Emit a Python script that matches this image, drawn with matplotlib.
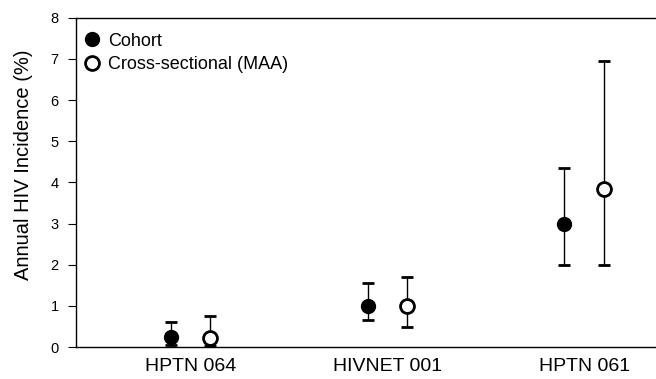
import numpy as np
import matplotlib
matplotlib.use("Agg")
import matplotlib.pyplot as plt
from matplotlib.lines import Line2D

plt.rcParams['font.family'] = ['Liberation Sans', 'DejaVu Sans']

studies = ["HPTN 064", "HIVNET 001", "HPTN 061"]

cohort = [0.25, 1.0, 3.0]
cohort_lo = [0.05, 0.67, 2.0]
cohort_hi = [0.6, 1.55, 4.35]

cross = [0.22, 1.0, 3.85]
cross_lo = [0.02, 0.5, 2.0]
cross_hi = [0.75, 1.7, 6.95]

x = np.arange(1, len(studies) + 1)
off = 0.1

fig = plt.figure(figsize=(6.56, 3.79), dpi=100)
ax = fig.add_axes([0.116, 0.084, 0.884, 0.869])

c = np.array(cohort)
ax.errorbar(x - off, c, yerr=[c - np.array(cohort_lo), np.array(cohort_hi) - c],
            fmt='o', color='black', ms=10, ecolor='black', elinewidth=1,
            capsize=4.5, capthick=2, zorder=3)
m = np.array(cross)
ax.errorbar(x + off, m, yerr=[m - np.array(cross_lo), np.array(cross_hi) - m],
            fmt='o', color='black', ms=10, mfc='white', mec='black', mew=2,
            ecolor='black', elinewidth=1, capsize=4.5, capthick=2, zorder=3)

ax.set_xlim(0.42, 3.365)
ax.set_ylim(0, 8)
ax.set_yticks(range(0, 9))
ax.set_xticks(x)
ax.set_xticklabels(studies, fontsize=14)
ax.tick_params(axis='x', length=0, pad=8)
ax.tick_params(axis='y', labelsize=10.5, direction='out', length=5.5, width=0.8,
               pad=7)
ax.set_ylabel("Annual HIV Incidence (%)", fontsize=14.5)
ax.yaxis.set_label_coords(-0.075, 0.553)
ax.spines['right'].set_visible(False)
for s in ['left', 'top', 'bottom']:
    ax.spines[s].set_linewidth(1)

handles = [Line2D([], [], marker='o', ls='', color='black', ms=10),
           Line2D([], [], marker='o', ls='', color='black', mfc='white', mew=2, ms=10)]
ax.legend(handles, ['Cohort', 'Cross-sectional (MAA)'], loc='upper left',
          bbox_to_anchor=(-0.01, 0.988), frameon=False, fontsize=13,
          handletextpad=0.3, borderaxespad=0.2, labelspacing=0.35,
          handlelength=1.2)

fig.savefig("out.png", dpi=100)
